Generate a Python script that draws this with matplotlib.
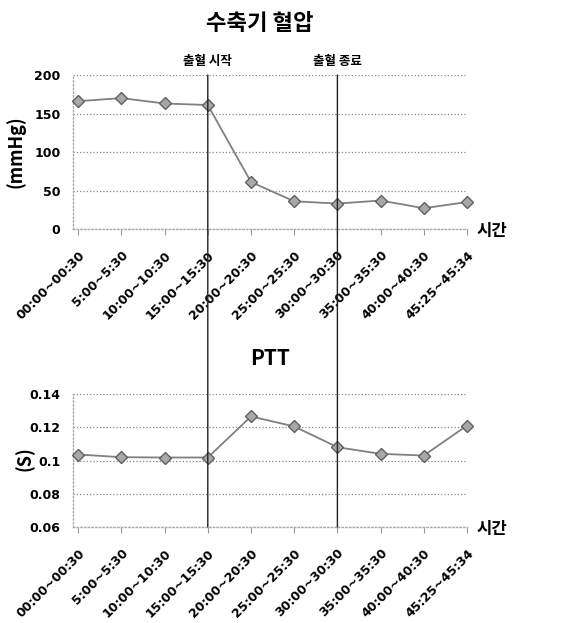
import matplotlib
matplotlib.use("Agg")
import matplotlib.pyplot as plt
from matplotlib.patches import ConnectionPatch

plt.rcParams['font.family'] = ['Noto Sans CJK KR', 'DejaVu Sans']

categories = ["00:00~00:30", "5:00~5:30", "10:00~10:30", "15:00~15:30", "20:00~20:30",
              "25:00~25:30", "30:00~30:30", "35:00~35:30", "40:00~40:30", "45:25~45:34"]
sbp = [166, 170, 163, 161, 61, 36, 33, 37, 27, 35]
ptt = [0.1036, 0.1020, 0.1018, 0.1018, 0.1265, 0.1205, 0.1080, 0.1040, 0.1030, 0.1210]
sbp_ticks = [0, 50, 100, 150, 200]
sbp_ticklabels = ["0", "50", "100", "150", "200"]
ptt_ticks = [0.06, 0.08, 0.10, 0.12, 0.14]
ptt_ticklabels = ["0.06", "0.08", "0.1", "0.12", "0.14"]
events = [(3, "출혈 시작"), (6, "출혈 종료")]

W, H = 571, 623
fig = plt.figure(figsize=(W / 100, H / 100), dpi=100)
fig.patch.set_facecolor("white")

left = 73 / W
width = (467 - 73) / W
ax1 = fig.add_axes([left, 1 - 229 / H, width, (229 - 75) / H])
ax2 = fig.add_axes([left, 1 - 527 / H, width, (527 - 394) / H])

x = list(range(len(categories)))

def style(ax, vals, ticks, ticklabels, ylim):
    ax.plot(x, vals, color="#808080", lw=1.3, marker="D", markersize=6,
            markerfacecolor="#a8a8a8", markeredgecolor="#606060", markeredgewidth=1.0,
            clip_on=False, zorder=3)
    ax.set_xlim(-0.12, 9.0)
    ax.set_ylim(*ylim)
    ax.set_yticks(ticks)
    ax.set_yticklabels(ticklabels, fontsize=9, fontweight="bold", family="DejaVu Sans")
    ax.set_xticks(x)
    ax.set_xticklabels(categories, rotation=45, ha="right", rotation_mode="anchor",
                       fontsize=9, fontweight="bold", family="DejaVu Sans")
    ax.tick_params(axis="y", length=0, pad=9)
    ax.tick_params(axis="x", length=4, color="#999999", pad=10)
    for s in ["top", "right"]:
        ax.spines[s].set_visible(False)
    for s in ["left", "bottom"]:
        ax.spines[s].set_color("#aaaaaa")
        ax.spines[s].set_linestyle(":")
        ax.spines[s].set_linewidth(1.0)
    ax.grid(axis="y", color="#888888", linestyle=":", linewidth=0.9)
    ax.set_axisbelow(True)

style(ax1, sbp, sbp_ticks, sbp_ticklabels, (0, 200))
style(ax2, ptt, ptt_ticks, ptt_ticklabels, (0.06, 0.14))

for xi, label in events:
    con = ConnectionPatch(xyA=(xi, 200), coordsA=ax1.transData,
                          xyB=(xi, 0.06), coordsB=ax2.transData,
                          color="#222222", lw=1.0, zorder=5)
    fig.add_artist(con)
    ax1.text(xi, 200 + 9, label, ha="center", va="bottom", fontsize=9, fontweight="bold")

fig.text(260 / W, 1 - 24 / H, "수축기 혈압", ha="center", va="center", fontsize=16, fontweight="bold")
fig.text(270 / W, 1 - 358 / H, "PTT", ha="center", va="center", fontsize=15, fontweight="bold")
fig.text(16 / W, 1 - 152 / H, "(mmHg)", ha="center", va="center", rotation=90, fontsize=13, fontweight="bold")
fig.text(25 / W, 1 - 459 / H, "(S)", ha="center", va="center", rotation=90, fontsize=13, fontweight="bold")
fig.text(477 / W, 1 - 231 / H, "시간", ha="left", va="center", fontsize=12, fontweight="bold")
fig.text(477 / W, 1 - 529 / H, "시간", ha="left", va="center", fontsize=12, fontweight="bold")

fig.savefig("out.png", dpi=100, facecolor="white")
